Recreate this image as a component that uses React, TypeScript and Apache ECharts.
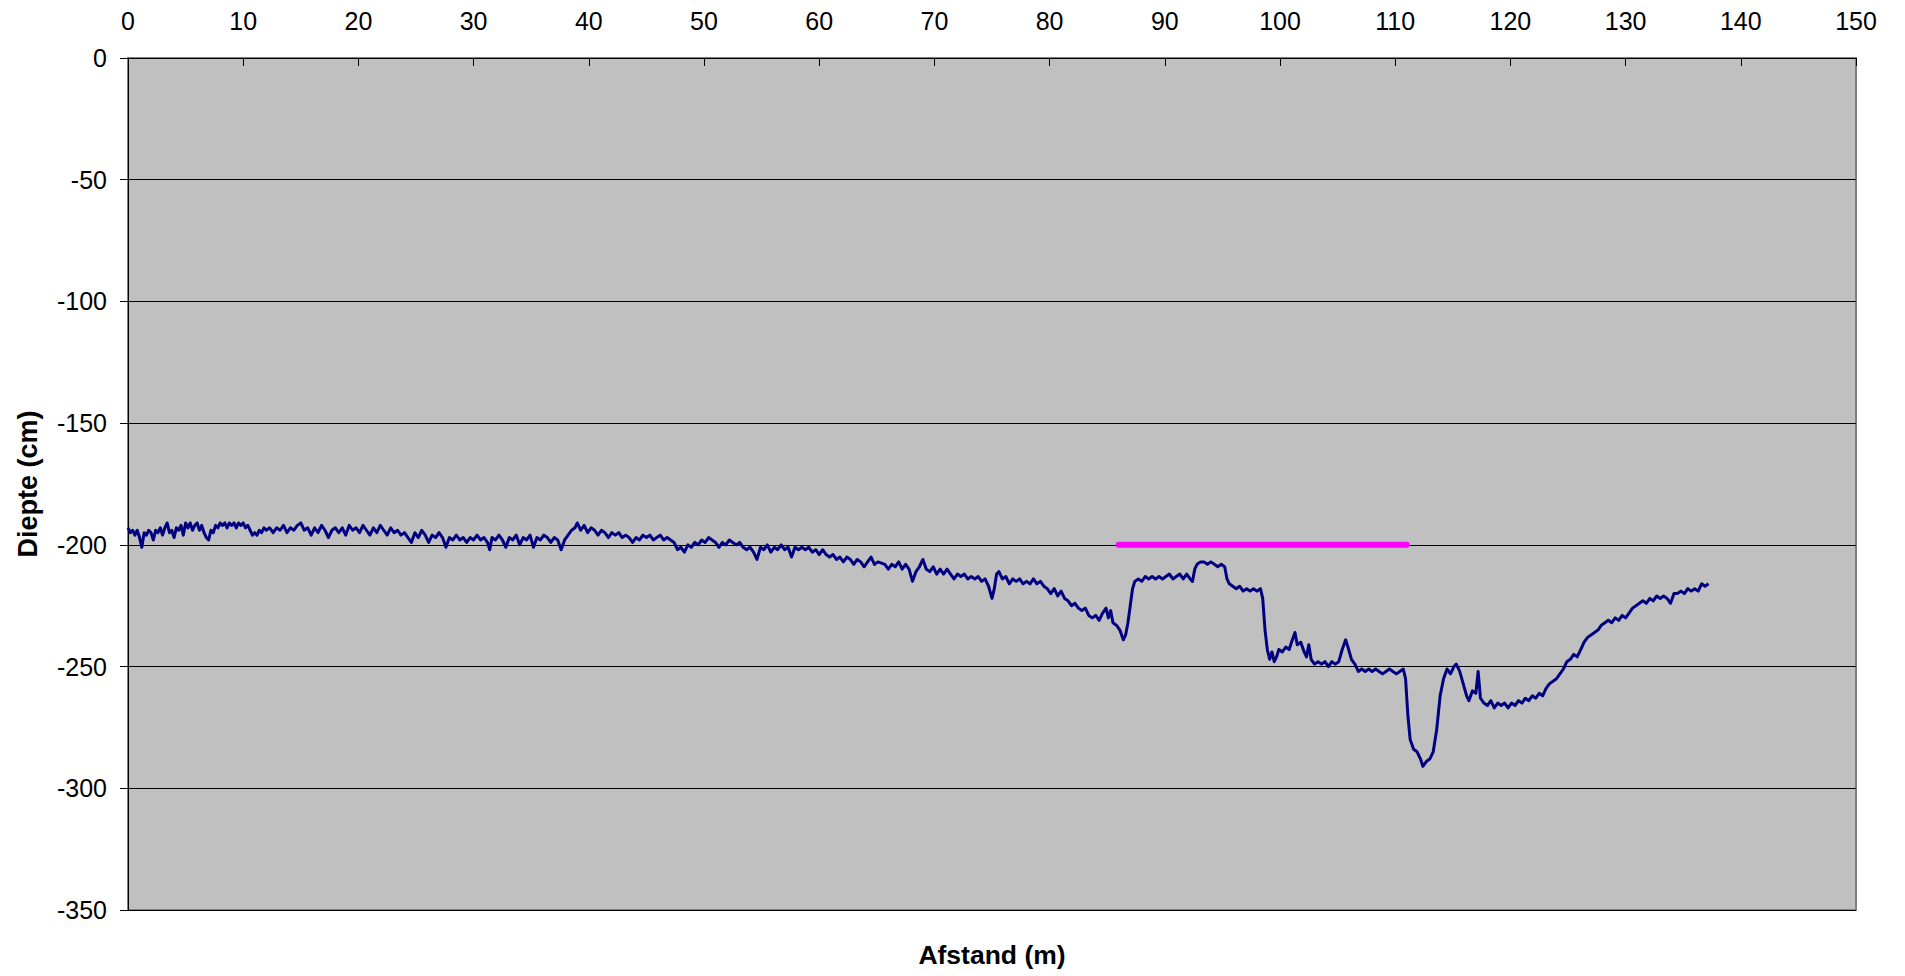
import React, { useEffect, useRef } from "react";
import * as echarts from "echarts";

const xTicks = { min: 0, max: 150, interval: 10 };
const yTicks = { min: -350, max: 0, interval: 50 };

const xTitle = "Afstand (m)";
const yTitle = "Diepte (cm)";

const afstand: number[] = [
  0.0, 0.2, 0.4, 0.6, 0.8, 1.0, 1.2, 1.4, 1.6, 1.8, 2.0, 2.2, 2.4, 2.6, 2.8, 3.0, 3.2, 3.4, 3.6, 3.8,
  4.0, 4.2, 4.4, 4.6, 4.8, 5.0, 5.2, 5.4, 5.6, 5.8, 6.0, 6.2, 6.4, 6.6, 6.8, 7.0, 7.2, 7.4, 7.6, 7.8,
  8.0, 8.2, 8.4, 8.6, 8.8, 9.0, 9.2, 9.4, 9.6, 9.8, 10.0, 10.2, 10.4, 10.6, 10.8, 11.0, 11.2, 11.4, 11.6, 11.8,
  12.0, 12.3, 12.6, 12.9, 13.2, 13.5, 13.8, 14.1, 14.4, 14.7, 15.0, 15.3, 15.6, 15.9, 16.2, 16.5, 16.8, 17.1, 17.4, 17.7,
  18.0, 18.3, 18.6, 18.9, 19.2, 19.5, 19.8, 20.1, 20.4, 20.7, 21.0, 21.3, 21.6, 21.9, 22.2, 22.5, 22.8, 23.1, 23.4, 23.7,
  24.0, 24.3, 24.6, 24.9, 25.2, 25.5, 25.8, 26.1, 26.4, 26.7, 27.0, 27.3, 27.6, 27.9, 28.2, 28.5, 28.8, 29.1, 29.4, 29.7,
  30.0, 30.3, 30.6, 30.9, 31.2, 31.4, 31.6, 31.9, 32.2, 32.5, 32.8, 33.1, 33.4, 33.7, 34.0, 34.3, 34.6, 34.9, 35.2, 35.5,
  35.8, 36.1, 36.4, 36.7, 37.0, 37.3, 37.6, 37.9, 38.2, 38.5, 38.8, 39.0, 39.3, 39.6, 39.9, 40.2, 40.5, 40.8, 41.1, 41.4,
  41.7, 42.0, 42.3, 42.6, 42.9, 43.2, 43.5, 43.8, 44.1, 44.4, 44.7, 45.0, 45.3, 45.6, 45.9, 46.2, 46.5, 46.8, 47.1, 47.4,
  47.7, 48.0, 48.3, 48.6, 48.9, 49.2, 49.5, 49.8, 50.1, 50.4, 50.7, 51.0, 51.3, 51.6, 51.9, 52.2, 52.5, 52.8, 53.1, 53.4,
  53.7, 54.0, 54.3, 54.6, 54.9, 55.2, 55.5, 55.8, 56.1, 56.4, 56.7, 57.0, 57.3, 57.6, 57.9, 58.2, 58.5, 58.8, 59.1, 59.4,
  59.7, 60.0, 60.3, 60.6, 60.9, 61.2, 61.5, 61.8, 62.1, 62.4, 62.7, 63.0, 63.3, 63.6, 63.9, 64.2, 64.5, 64.8, 65.1, 65.7,
  66.0, 66.3, 66.6, 66.9, 67.2, 67.5, 67.8, 68.1, 68.4, 68.7, 69.0, 69.3, 69.6, 69.9, 70.2, 70.5, 70.8, 71.1, 71.4, 71.7,
  72.0, 72.3, 72.6, 72.9, 73.2, 73.5, 73.8, 74.1, 74.4, 74.7, 75.0, 75.2, 75.4, 75.6, 75.9, 76.2, 76.5, 76.8, 77.1, 77.4,
  77.7, 78.0, 78.3, 78.6, 78.9, 79.2, 79.5, 79.8, 80.1, 80.4, 80.7, 81.0, 81.3, 81.6, 81.9, 82.2, 82.5, 82.8, 83.1, 83.4,
  83.7, 84.0, 84.3, 84.6, 84.9, 85.1, 85.3, 85.5, 85.8, 86.1, 86.4, 86.6, 86.8, 87.0, 87.2, 87.4, 87.7, 88.0, 88.3, 88.6,
  88.9, 89.2, 89.5, 89.8, 90.1, 90.4, 90.7, 91.0, 91.3, 91.6, 91.9, 92.2, 92.4, 92.6, 92.8, 93.1, 93.4, 93.7, 94.0, 94.3,
  94.6, 94.9, 95.2, 95.4, 95.6, 95.9, 96.2, 96.5, 96.8, 97.1, 97.4, 97.7, 98.0, 98.3, 98.5, 98.7, 98.9, 99.1, 99.3, 99.5,
  99.7, 99.9, 100.2, 100.5, 100.8, 101.0, 101.3, 101.5, 101.8, 102.1, 102.3, 102.5, 102.7, 103.0, 103.3, 103.6, 103.9, 104.2, 104.5, 104.8,
  105.1, 105.4, 105.7, 105.9, 106.2, 106.5, 106.8, 107.1, 107.4, 107.7, 108.0, 108.3, 108.6, 108.9, 109.2, 109.5, 109.8, 110.1, 110.4, 110.7,
  110.9, 111.1, 111.3, 111.6, 111.9, 112.2, 112.4, 112.7, 113.0, 113.3, 113.6, 113.9, 114.2, 114.5, 114.8, 115.1, 115.3, 115.6, 115.9, 116.2,
  116.4, 116.7, 117.0, 117.2, 117.4, 117.7, 118.0, 118.3, 118.6, 118.9, 119.2, 119.5, 119.8, 120.1, 120.4, 120.7, 121.0, 121.3, 121.6, 121.9,
  122.2, 122.5, 122.8, 123.1, 123.4, 123.7, 124.0, 124.3, 124.6, 124.9, 125.2, 125.5, 125.8, 126.1, 126.4, 126.7, 127.0, 127.3, 127.6, 127.9,
  128.2, 128.5, 128.8, 129.1, 129.4, 129.7, 130.0, 130.3, 130.6, 130.9, 131.2, 131.5, 131.8, 132.1, 132.4, 132.7, 133.0, 133.3, 133.6, 133.9,
  134.2, 134.5, 134.8, 135.1, 135.4, 135.7, 136.0, 136.3, 136.6, 136.9, 137.2,
];

const diepte: number[] = [
  -193, -195, -194, -196, -194, -197, -201, -195, -196, -194, -195, -198, -194, -195, -193, -196, -193, -191, -195, -194,
  -197, -193, -194, -192, -196, -191, -193, -191, -194, -192, -191, -194, -192, -195, -197, -198, -194, -195, -192, -193,
  -191, -192, -191, -193, -191, -192, -191, -193, -191, -192, -191, -193, -192, -194, -196, -195, -196, -194, -195, -193,
  -194, -193, -195, -193, -194, -192, -195, -193, -194, -192, -191, -194, -193, -196, -193, -195, -192, -194, -197, -194,
  -193, -195, -193, -196, -192, -194, -193, -195, -192, -194, -196, -193, -195, -192, -194, -196, -193, -195, -194, -196,
  -195, -197, -199, -195, -197, -194, -196, -199, -196, -197, -195, -197, -201, -197, -198, -196, -198, -197, -199, -197,
  -198, -196, -198, -197, -199, -202, -197, -198, -196, -198, -201, -197, -198, -196, -200, -197, -198, -196, -201, -197,
  -198, -196, -197, -199, -197, -198, -202, -198, -196, -194, -193, -191, -194, -192, -195, -193, -194, -196, -194, -195,
  -197, -195, -196, -195, -197, -196, -197, -199, -197, -198, -196, -197, -196, -198, -197, -196, -198, -197, -198, -199,
  -202, -201, -203, -200, -201, -199, -200, -198, -199, -197, -198, -199, -201, -199, -200, -198, -199, -200, -199, -201,
  -202, -201, -203, -206, -201, -202, -200, -203, -201, -202, -200, -202, -201, -205, -201, -202, -201, -202, -201, -203,
  -202, -204, -202, -204, -205, -204, -206, -205, -207, -205, -206, -208, -206, -207, -209, -207, -205, -208, -207, -208,
  -210, -208, -209, -207, -210, -208, -210, -215, -211, -209, -206, -210, -211, -209, -212, -210, -212, -210, -212, -214,
  -212, -213, -212, -214, -213, -214, -213, -215, -214, -217, -222, -218, -212, -211, -214, -213, -216, -214, -215, -214,
  -216, -215, -216, -214, -216, -215, -217, -218, -220, -218, -221, -219, -222, -223, -225, -224, -226, -227, -226, -229,
  -230, -229, -231, -228, -226, -230, -227, -232, -233, -235, -239, -237, -232, -225, -218, -215, -214, -215, -213, -214,
  -213, -214, -213, -214, -213, -212, -214, -213, -212, -214, -212, -214, -215, -210, -208, -207, -207, -208, -207, -208,
  -209, -208, -209, -214, -216, -217, -218, -217, -219, -218, -219, -218, -219, -218, -222, -235, -243, -247, -244, -248,
  -246, -243, -244, -242, -243, -240, -236, -241, -240, -244, -246, -241, -247, -249, -248, -249, -248, -250, -248, -249,
  -248, -243, -239, -242, -247, -249, -252, -251, -252, -251, -252, -251, -252, -253, -252, -251, -252, -253, -252, -251,
  -255, -270, -280, -284, -285, -288, -291, -289, -288, -285, -276, -262, -255, -251, -253, -250, -249, -252, -257, -262,
  -264, -260, -261, -252, -263, -265, -266, -264, -267, -265, -266, -265, -267, -265, -266, -264, -265, -263, -264, -262,
  -263, -261, -262, -259, -257, -256, -255, -253, -251, -248, -247, -245, -246, -243, -240, -238, -237, -236, -235, -233,
  -232, -231, -232, -230, -231, -229, -230, -228, -226, -225, -224, -223, -224, -222, -223, -221, -222, -221, -222, -224,
  -220, -220, -219, -220, -218, -219, -218, -219, -216, -217, -216,
];

const referentieAfstand: number[] = [86, 95, 103, 111];
const referentieDiepte: number[] = [-200, -200, -200, -200];

const FONT = "'Liberation Sans', Arial, Helvetica, sans-serif";

export default function App() {
  const ref = useRef<HTMLDivElement>(null);

  useEffect(() => {
    document.body.style.margin = "0";
    if (!ref.current) return;
    const chart = echarts.init(ref.current, null, { renderer: "svg" });

    const profile = afstand.map((x, i) => [x, diepte[i]]);
    const referentie = referentieAfstand.map((x, i) => [x, referentieDiepte[i]]);

    chart.setOption({
      animation: false,
      backgroundColor: "#ffffff",
      grid: {
        left: 128,
        top: 58,
        width: 1728,
        height: 852,
        show: true,
        backgroundColor: "#c0c0c0",
        borderColor: "#808080",
        borderWidth: 2,
      },
      xAxis: {
        type: "value",
        position: "top",
        min: xTicks.min,
        max: xTicks.max,
        interval: xTicks.interval,
        axisLine: { show: true, onZero: false, lineStyle: { color: "#000", width: 1 } },
        axisTick: { show: true, inside: true, length: 8, lineStyle: { color: "#000" } },
        splitLine: { show: false },
        axisLabel: { color: "#000", fontSize: 25, fontFamily: FONT, margin: 25 },
      },
      yAxis: {
        type: "value",
        min: yTicks.min,
        max: yTicks.max,
        interval: yTicks.interval,
        axisLine: { show: true, onZero: false, lineStyle: { color: "#000", width: 1 } },
        axisTick: { show: true, inside: false, length: 8, lineStyle: { color: "#000" } },
        splitLine: { show: true, lineStyle: { color: "#000", width: 1 } },
        axisLabel: { color: "#000", fontSize: 25, fontFamily: FONT, margin: 21 },
      },
      graphic: [
        {
          type: "text",
          x: 992,
          y: 955,
          style: {
            text: xTitle,
            fontSize: 26.5,
            fontWeight: "bold",
            fontFamily: FONT,
            fill: "#000",
            align: "center",
            verticalAlign: "middle",
          },
        },
        {
          type: "text",
          x: 28,
          y: 484,
          rotation: Math.PI / 2,
          style: {
            text: yTitle,
            fontSize: 27,
            fontWeight: "bold",
            fontFamily: FONT,
            fill: "#000",
            align: "center",
            verticalAlign: "middle",
          },
        },
      ],
      series: [
        {
          type: "line",
          data: profile,
          showSymbol: false,
          symbol: "none",
          lineStyle: { color: "#000080", width: 3, join: "round" },
          z: 3,
        },
        {
          type: "line",
          data: referentie,
          showSymbol: false,
          symbol: "none",
          lineStyle: { color: "#ff00ff", width: 6, cap: "round", join: "round" },
          z: 4,
        },
      ],
    });

    return () => chart.dispose();
  }, []);

  return <div ref={ref} style={{ width: 1905, height: 976 }} />;
}
